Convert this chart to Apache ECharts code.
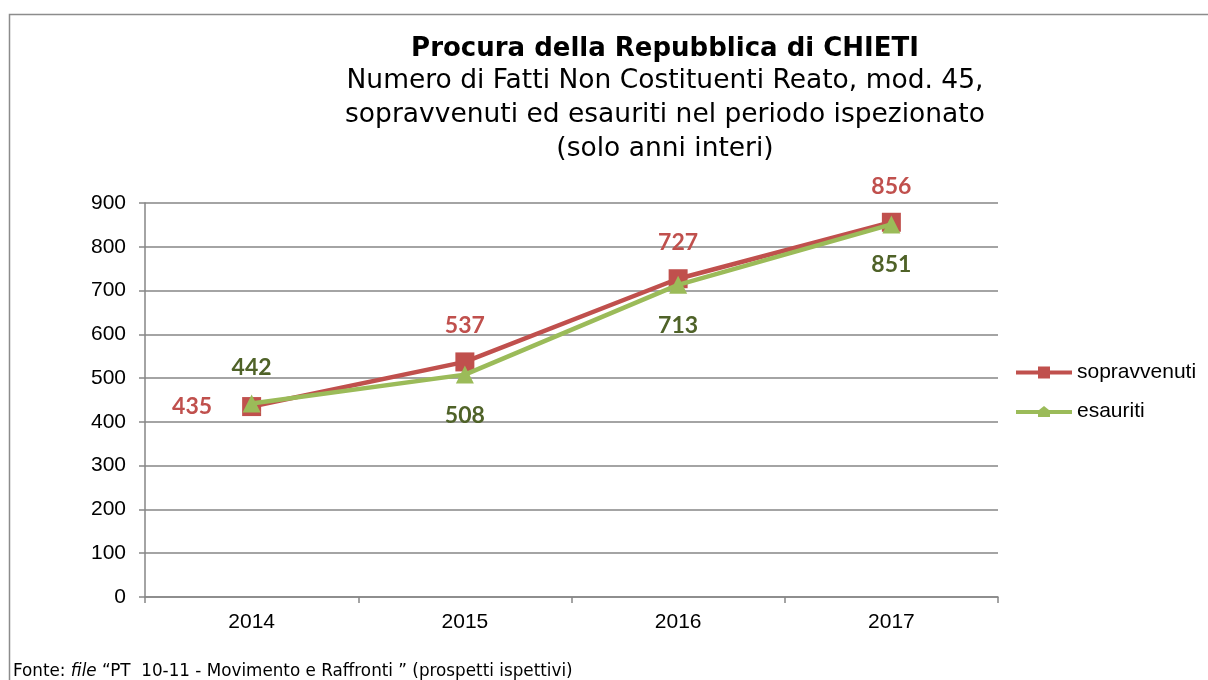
<!DOCTYPE html>
<html><head><meta charset="utf-8">
<script src="https://cdn.jsdelivr.net/npm/echarts@6/dist/echarts.min.js"></script>
<style>html,body{margin:0;padding:0;background:#fff}#c{width:1208px;height:680px}</style>
</head><body><div id="c"></div>
<script>
const categories = ['2014', '2015', '2016', '2017'];
const sopravvenuti = [435, 537, 727, 856];
const esauriti = [442, 508, 713, 851];
const yTicks = [0, 100, 200, 300, 400, 500, 600, 700, 800, 900];
const sopLabelPos = ['left', 'top', 'top', 'top'];
const esaLabelPos = ['top', 'bottom', 'bottom', 'bottom'];

const chart = echarts.init(document.getElementById('c'), null, {renderer: 'canvas'});
const labelFont = {fontFamily: 'Lato', fontWeight: 'bold', fontSize: 23};
function lbl(pos) {
  const d = pos === 'left' ? 30 : (pos === 'bottom' ? 20 : 15);
  return {position: pos, distance: d};
}
chart.setOption({
  animation: false,
  backgroundColor: '#fff',
  title: {
    text: 'Procura della Repubblica di CHIETI',
    subtext: 'Numero di Fatti Non Costituenti Reato, mod. 45,\nsopravvenuti ed esauriti nel periodo ispezionato\n(solo anni interi)',
    left: 660, top: 31, textAlign: 'center', itemGap: 2,
    textStyle: {fontFamily: 'DejaVu Sans', fontWeight: 'bold', fontSize: 26, color: '#000'},
    subtextStyle: {fontFamily: 'DejaVu Sans', fontSize: 26.5, color: '#000', lineHeight: 34}
  },
  legend: {
    orient: 'vertical', left: 1011, top: 357, itemGap: 18,
    itemWidth: 56, itemHeight: 14,
    textStyle: {fontFamily: 'Liberation Sans', fontSize: 21, color: '#000'},
    data: [
      {name: 'sopravvenuti', icon: 'path://M0,5 L22,5 L22,1 L34,1 L34,5 L56,5 L56,9 L34,9 L34,13 L22,13 L22,9 L0,9 Z'},
      {name: 'esauriti', icon: 'path://M0,5 L23,5 L28,1 L33,5 L56,5 L56,9 L34,9 L34,12 L22,12 L22,9 L0,9 Z'}
    ]
  },
  grid: {left: 145, right: 210, top: 203, bottom: 83, containLabel: false},
  xAxis: {
    type: 'category', data: categories, boundaryGap: true,
    axisLine: {lineStyle: {color: '#868686', width: 1.5}},
    axisTick: {show: true, length: 6, lineStyle: {color: '#868686', width: 1.5}},
    axisLabel: {fontFamily: 'Liberation Sans', fontSize: 21, color: '#000', margin: 15}
  },
  yAxis: {
    type: 'value', min: yTicks[0], max: yTicks[yTicks.length-1], interval: 100,
    axisLine: {show: true, lineStyle: {color: '#868686', width: 1.5}},
    axisTick: {show: true, length: 6, lineStyle: {color: '#868686', width: 1.5}},
    splitLine: {lineStyle: {color: '#868686', width: 1.5}},
    axisLabel: {fontFamily: 'Liberation Sans', fontSize: 21, color: '#000', margin: 19}
  },
  series: [
    {
      name: 'sopravvenuti', type: 'line', z: 2,
      data: sopravvenuti.map((v, i) => ({value: v, label: lbl(sopLabelPos[i])})),
      symbol: 'rect', symbolSize: 19,
      lineStyle: {color: '#C0504D', width: 4.5},
      itemStyle: {color: '#C0504D'},
      label: Object.assign({show: true, color: '#C0504D'}, labelFont)
    },
    {
      name: 'esauriti', type: 'line', z: 3,
      data: esauriti.map((v, i) => ({value: v, label: lbl(esaLabelPos[i])})),
      symbol: 'triangle', symbolSize: 18,
      lineStyle: {color: '#9BBB59', width: 4.5},
      itemStyle: {color: '#9BBB59'},
      label: Object.assign({show: true, color: '#4F6228'}, labelFont)
    }
  ],
  graphic: [
    {type: 'polyline', shape: {points: [[9.5, 680], [9.5, 14.5], [1208, 14.5]]}, style: {stroke: '#8c8c8c', lineWidth: 1.5, fill: null}},
    {type: 'text', left: 13, top: 663, style: {
      text: 'Fonte: {i|file} “PT  10-11 - Movimento e Raffronti ” (prospetti ispettivi)',
      font: '16.8px "DejaVu Sans"', fill: '#000',
      rich: {i: {fontStyle: 'italic', fontFamily: 'DejaVu Sans', fontSize: 16.8, fill: '#000'}}
    }}
  ]
});
</script></body></html>
